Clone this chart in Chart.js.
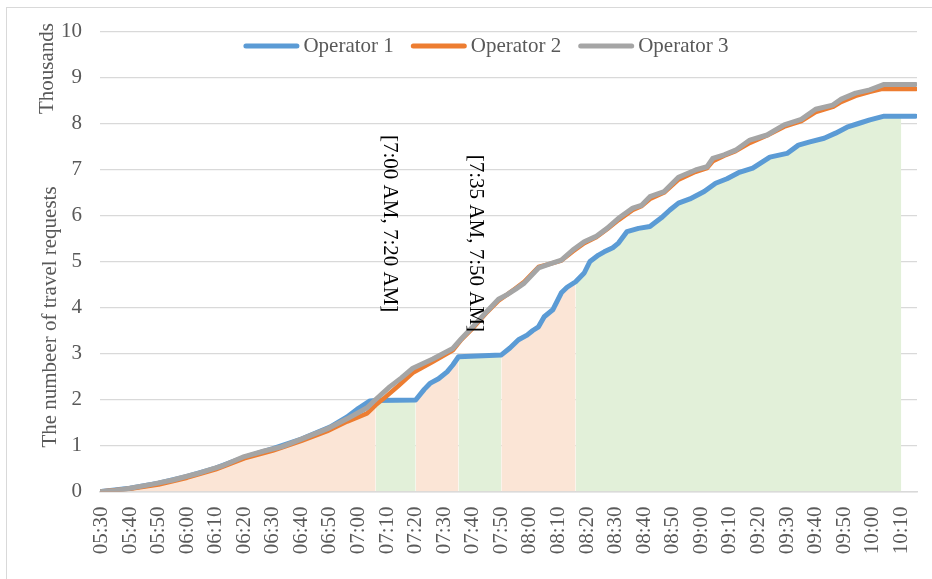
<!DOCTYPE html>
<html lang="en">
<head>
<meta charset="UTF-8">
<title>Travel requests by operator</title>
<script src="https://cdn.jsdelivr.net/npm/chart.js"></script>
<style>
  body { margin: 0; background: #fff; overflow: hidden; }
  #chart { display: block; }
</style>
</head>
<body>
<canvas id="chart" width="932" height="579"></canvas>
<script>
// cumulative travel requests (thousands), read at the times where each curve bends
const op1Times = ['05:30','05:40','05:50','06:00','06:10','06:20','06:30','06:40','06:50','06:56',
  '07:00','07:04','07:06','07:20','07:23','07:25','07:28','07:31','07:33','07:35',
  '07:50','07:53','07:56','07:59','08:01','08:03','08:05','08:08','08:11','08:13',
  '08:16','08:19','08:21','08:24','08:26','08:29','08:31','08:34','08:38','08:42',
  '08:46','08:49','08:52','08:56','09:01','09:05','09:09','09:13','09:18','09:21',
  '09:24','09:30','09:34','09:38','09:43','09:47','09:51','09:55','09:59','10:04',
  '10:10','10:15'];
const op1Values = [0,0.07,0.18,0.33,0.51,0.74,0.93,1.14,1.40,1.62,
  1.81,1.97,1.98,1.99,2.22,2.35,2.45,2.60,2.75,2.93,
  2.97,3.12,3.30,3.40,3.50,3.58,3.80,3.95,4.32,4.44,
  4.56,4.75,5.00,5.14,5.21,5.30,5.40,5.65,5.72,5.76,
  5.95,6.12,6.27,6.36,6.52,6.70,6.80,6.93,7.03,7.15,
  7.27,7.35,7.53,7.60,7.68,7.79,7.92,8.00,8.08,8.16,
  8.16,8.16];

const op2Times = ['05:30','05:40','05:50','06:00','06:10','06:20','06:30','06:40','06:49','06:56',
  '07:03','07:06','07:09','07:14','07:19','07:26','07:33','07:36','07:40','07:45',
  '07:49','07:52','07:55','07:58','08:03','08:07','08:11','08:15','08:19','08:23',
  '08:27','08:31','08:36','08:39','08:42','08:47','08:52','08:58','09:02','09:04',
  '09:08','09:12','09:17','09:23','09:29','09:35','09:40','09:46','09:49','09:54',
  '09:59','10:03','10:15'];
const op2Values = [0,0.06,0.15,0.30,0.48,0.72,0.89,1.10,1.31,1.52,
  1.70,1.88,2.03,2.30,2.58,2.82,3.07,3.30,3.55,3.90,
  4.15,4.28,4.42,4.56,4.88,4.95,5.02,5.22,5.40,5.52,
  5.70,5.90,6.12,6.20,6.36,6.50,6.78,6.95,7.03,7.18,
  7.30,7.40,7.58,7.74,7.93,8.05,8.25,8.36,8.47,8.60,
  8.69,8.75,8.75];

const op3Times = ['05:30','05:35','05:40','05:48','05:55','06:03','06:12','06:20','06:27','06:33',
  '06:40','06:49','06:56','07:03','07:06','07:11','07:15','07:19','07:26','07:33',
  '07:36','07:40','07:45','07:49','07:52','07:55','07:58','08:03','08:07','08:11',
  '08:15','08:19','08:23','08:27','08:31','08:36','08:39','08:42','08:47','08:52',
  '08:58','09:02','09:04','09:08','09:12','09:17','09:23','09:29','09:35','09:40',
  '09:46','09:49','09:54','09:59','10:04','10:15'];
const op3Values = [0,0.02,0.07,0.16,0.25,0.38,0.55,0.76,0.88,0.97,
  1.14,1.36,1.58,1.82,2.00,2.28,2.47,2.68,2.88,3.11,
  3.32,3.58,3.92,4.18,4.28,4.40,4.53,4.86,4.95,5.03,
  5.25,5.43,5.54,5.72,5.94,6.16,6.22,6.41,6.52,6.83,
  6.99,7.06,7.24,7.32,7.42,7.64,7.75,7.97,8.09,8.31,
  8.40,8.53,8.66,8.73,8.85,8.85];

const seriesNames = ['Operator 1', 'Operator 2', 'Operator 3'];

// axis labels, one every 10 minutes
const tickLabels = ['05:30','05:40','05:50','06:00','06:10','06:20','06:30','06:40','06:50','07:00',
  '07:10','07:20','07:30','07:40','07:50','08:00','08:10','08:20','08:30','08:40',
  '08:50','09:00','09:10','09:20','09:30','09:40','09:50','10:00','10:10'];

// shaded periods under the curves and which operator outlines them
const shadeStart  = ['05:30','07:06','07:20','07:35','07:50','08:16'];
const shadeEnd    = ['07:06','07:20','07:35','07:50','08:16','10:10'];
const shadeSource = ['Operator 2','Operator 1','Operator 1','Operator 1','Operator 1','Operator 1'];

const periodLabels = ['[7:00 AM, 7:20 AM]', '[7:35 AM, 7:50 AM]'];

// ---- styling ----
const lineColors  = ['#5B9BD5', '#ED7D31', '#A5A5A5'];
const lineWidths  = [5, 4.5, 5];
const shadeColors = ['#FBE5D6', '#E2F0D9', '#FBE5D6', '#E2F0D9', '#FBE5D6', '#E2F0D9'];
const FONT = "'Liberation Serif', 'Times New Roman', serif";
const TEXT = '#595959';
const GRID = '#D9D9D9';

// minutes since 05:30
const toMin = t => { const [h, m] = t.split(':').map(Number); return h * 60 + m - 330; };
const points = (times, values) => times.map((t, i) => ({ x: toMin(t), y: values[i] }));

const series = {
  'Operator 1': points(op1Times, op1Values),
  'Operator 2': points(op2Times, op2Values),
  'Operator 3': points(op3Times, op3Values)
};

const lineSets = seriesNames.map((name, i) => ({
  label: name,
  data: series[name],
  borderColor: lineColors[i],
  borderWidth: lineWidths[i],
  borderJoinStyle: 'round',
  borderCapStyle: 'round',
  pointRadius: 0,
  tension: 0,
  fill: false,
  order: 3 - i
}));

const shadeSets = shadeStart.map((s, i) => {
  const a = toMin(s), b = toMin(shadeEnd[i]);
  return {
    label: 'shade' + i,
    data: series[shadeSource[i]].filter(p => p.x >= a && p.x <= b),
    backgroundColor: shadeColors[i],
    borderWidth: 0,
    pointRadius: 0,
    tension: 0,
    fill: 'origin',
    order: 10
  };
});

// legend, axis titles and period labels
const decor = {
  id: 'decor',
  beforeDraw(chart) {
    const ctx = chart.ctx;
    ctx.save();
    ctx.fillStyle = '#fff';
    ctx.fillRect(0, 0, chart.width, chart.height);
    ctx.strokeStyle = GRID;
    ctx.lineWidth = 1;
    ctx.strokeRect(6.5, 7.5, chart.width + 20, chart.height + 20);
    ctx.restore();
  },
  afterDraw(chart) {
    const ctx = chart.ctx;
    const area = chart.chartArea;
    const xs = chart.scales.x, ys = chart.scales.y;
    ctx.save();
    ctx.font = '21px ' + FONT;
    ctx.textBaseline = 'middle';

    // legend
    const sw = 56, gapText = 4, gapItem = 17;
    const widths = seriesNames.map(n => ctx.measureText(n).width);
    let total = 0;
    widths.forEach((w, i) => { total += sw + gapText + w + (i ? gapItem : 0); });
    let lx = 486 - total / 2;
    const ly = area.top + 14.5;
    seriesNames.forEach((n, i) => {
      ctx.strokeStyle = lineColors[i];
      ctx.lineWidth = 5;
      ctx.lineCap = 'round';
      ctx.beginPath();
      ctx.moveTo(lx + 2.5, ly);
      ctx.lineTo(lx + sw - 2.5, ly);
      ctx.stroke();
      ctx.fillStyle = TEXT;
      ctx.textAlign = 'left';
      ctx.fillText(n, lx + sw + gapText, ly);
      lx += sw + gapText + widths[i] + gapItem;
    });

    // y axis titles
    ctx.fillStyle = TEXT;
    ctx.textAlign = 'center';
    ctx.save();
    ctx.translate(47, 68.5);
    ctx.rotate(-Math.PI / 2);
    ctx.fillText('Thousands', 0, 0);
    ctx.restore();
    ctx.save();
    ctx.translate(50, 317);
    ctx.rotate(-Math.PI / 2);
    ctx.fillText('The numbeer of travel requests', 0, 0);
    ctx.restore();

    // period labels, written top to bottom
    const anchors = [['07:11', 7.75], ['07:41', 7.32]];
    ctx.fillStyle = '#000';
    ctx.textAlign = 'left';
    periodLabels.forEach((txt, i) => {
      ctx.save();
      ctx.translate(xs.getPixelForValue(toMin(anchors[i][0])), ys.getPixelForValue(anchors[i][1]));
      ctx.rotate(Math.PI / 2);
      ctx.fillText(txt, 0, 0);
      ctx.restore();
    });
    ctx.restore();
  }
};

new Chart(document.getElementById('chart'), {
  type: 'line',
  data: { datasets: [...lineSets, ...shadeSets] },
  options: {
    responsive: false,
    animation: false,
    devicePixelRatio: 1,
    layout: { padding: { left: 0, right: 15, top: 31.5, bottom: 0 } },
    plugins: { legend: { display: false }, tooltip: { enabled: false } },
    scales: {
      x: {
        type: 'linear',
        min: -0.5,
        max: 285.5,
        afterBuildTicks: s => { s.ticks = tickLabels.map(t => ({ value: toMin(t) })); },
        afterFit: s => { s.height = 87.5; s.paddingLeft = 0; s.paddingRight = 0; },
        grid: { display: false, drawTicks: false },
        border: { display: true, color: GRID, width: 1.5 },
        ticks: {
          autoSkip: false,
          minRotation: 90,
          maxRotation: 90,
          padding: 15,
          color: TEXT,
          font: { family: FONT, size: 21 },
          callback: (v, i) => tickLabels[i]
        }
      },
      y: {
        min: 0,
        max: 10,
        afterFit: s => { s.width = 100; s.paddingTop = 0; s.paddingBottom = 0; },
        grid: { color: GRID, lineWidth: 1.3, drawTicks: false },
        border: { display: false },
        ticks: {
          stepSize: 1,
          padding: 18,
          color: TEXT,
          font: { family: FONT, size: 21 }
        }
      }
    }
  },
  plugins: [decor]
});
</script>
</body>
</html>
